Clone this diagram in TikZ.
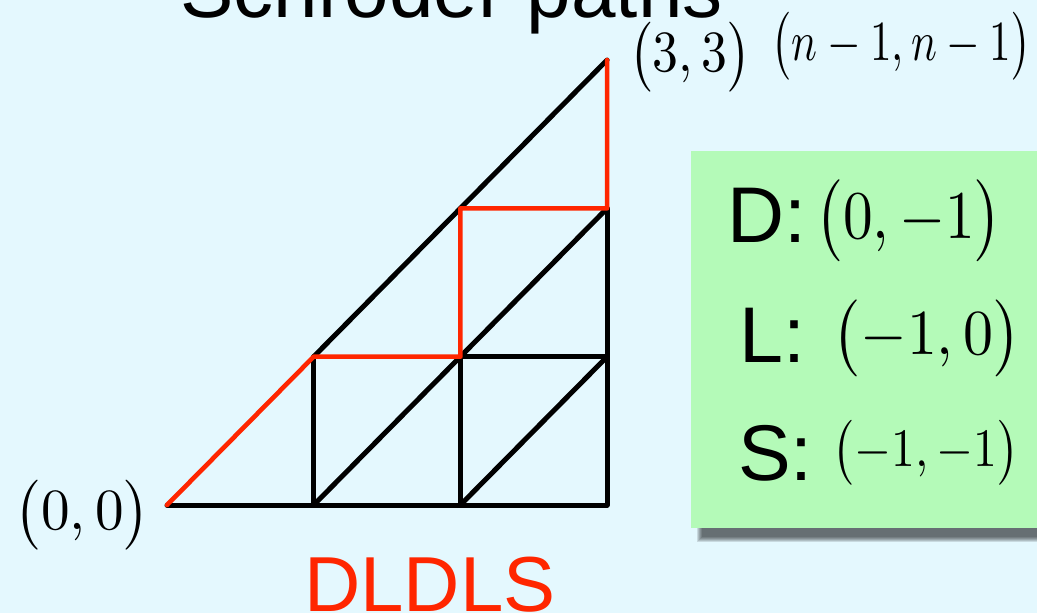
\documentclass[tikz,border=0pt]{standalone}
\usepackage{fontspec}
\setmainfont{Liberation Sans}
\usepackage{graphicx}
\definecolor{bg}{RGB}{228,248,254}
\definecolor{boxgreen}{RGB}{180,250,184}
\definecolor{pathred}{RGB}{255,38,0}
\newcommand{\fitmath}[3]{\resizebox*{#1pt}{#2pt}{$#3$}}
\begin{document}
\begin{tikzpicture}[x=1pt,y=-1pt,
  gridline/.style={line width=5pt, line cap=round, line join=round, black},
  redpath/.style={line width=4.6pt, line cap=round, line join=round, pathred},
  mathlbl/.style={inner sep=0pt},
  sanslbl/.style={inner sep=0pt, anchor=base west, font=\fontsize{79}{90}\selectfont}]
\clip (0,0) rectangle (1037,613);
\fill[bg] (0,0) rectangle (1037,613);
% title
\node[inner sep=0pt, anchor=base west, font=\fontsize{80}{90}\selectfont] (title) at (180,17) {Schröder paths};
% legend shadow and box
\foreach \d in {0,...,5}
  \fill[black, opacity=0.12] ({697+\d},165) rectangle (1050,{542-\d});
\node[fill=boxgreen, inner sep=0pt, minimum width=360pt, minimum height=377pt, anchor=north west] (legend) at (691,151) {};
% lattice points
\foreach \i in {0,...,3}
  \foreach \j in {0,...,3}
    \coordinate (p\i\j) at ({167+146.7*\i},{505-148.33*\j});
% black grid
\draw[gridline] (p00) -- (p30);
\draw[gridline] (p10) -- (p11);
\draw[gridline] (p20) -- (p21);
\draw[gridline] (p30) -- (p32);
\draw[gridline] (p21) -- (p31);
\draw[gridline] (p11) -- (p33);
\draw[gridline] (p10) -- (p32);
\draw[gridline] (p20) -- (p31);
% red path
\draw[redpath] (p33) -- (p32) -- (p22) -- (p21) -- (p11) -- (p00);
% point labels
\node[mathlbl] (l00) at (82.5,515) {\fitmath{135}{70}{\bigl(0,0\bigr)}};
\node[mathlbl] (l33) at (690,57) {\fitmath{122}{70}{\bigl(3,3\bigr)}};
\node[mathlbl] (lnn) at (901.5,46) {\fitmath{259}{68}{\bigl(n-1,n-1\bigr)}};
% legend entries
\node[sanslbl] (dkey) at (727,242) {D:};
\node[sanslbl] (lkey) at (739,362) {L:};
\node[sanslbl] (skey) at (738,480) {S:};
\node[mathlbl] (dval) at (909,221) {\fitmath{186}{82}{\bigl(0,-1\bigr)}};
\node[mathlbl] (lval) at (927,338.5) {\fitmath{188}{77}{\bigl(-1,0\bigr)}};
\node[mathlbl] (sval) at (926,452.5) {\fitmath{186}{65}{\bigl(-1,-1\bigr)}};
% word
\node[inner sep=0pt, anchor=base west, text=pathred, font=\fontsize{78}{90}\selectfont] (word) at (304,611) {DLDLS};
\end{tikzpicture}
\end{document}
